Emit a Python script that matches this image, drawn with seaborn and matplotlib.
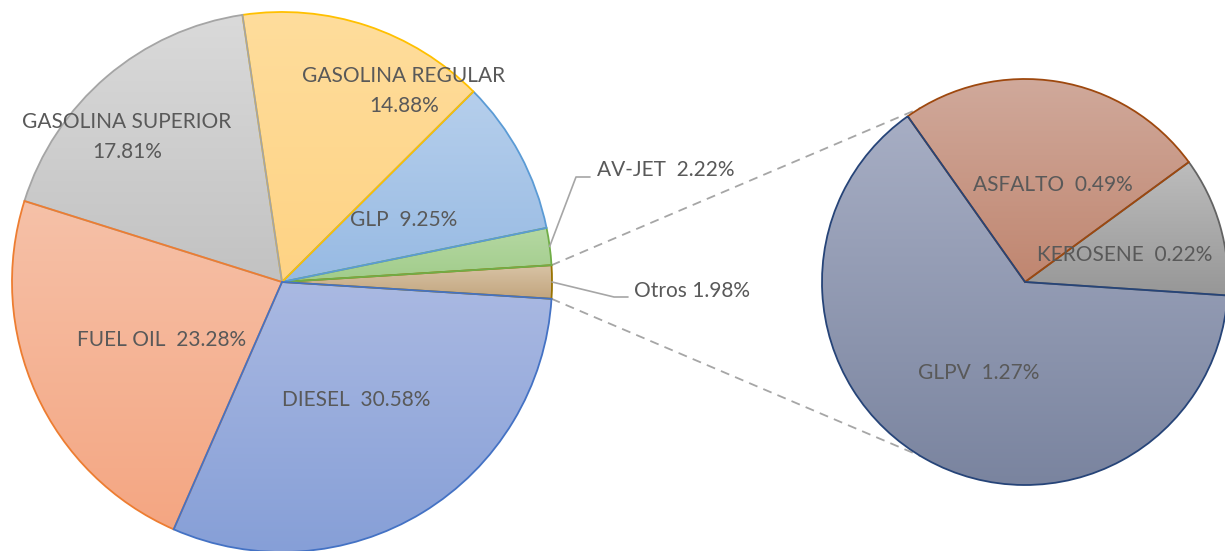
import numpy as np
import matplotlib
matplotlib.use("Agg")
import matplotlib.pyplot as plt
import matplotlib.colors as mcolors
import seaborn as sns

# data (main pie, counter-clockwise from 3 o'clock)
main_labels = ["Otros", "AV-JET", "GLP", "GASOLINA REGULAR", "GASOLINA SUPERIOR", "FUEL OIL", "DIESEL"]
main_values = [1.98, 2.22, 9.25, 14.88, 17.81, 23.28, 30.58]

# breakdown of "Otros"
sub_labels = ["KEROSENE", "ASFALTO", "GLPV"]
sub_values = [0.22, 0.49, 1.27]

# styles: edge colour, gradient top, gradient bottom
main_edge = ["#997300", "#70AD47", "#5B9BD5", "#FFC000", "#A5A5A5", "#ED7D31", "#4472C4"]
main_top = ["#D8C3A5", "#B5D8A3", "#B6CFEC", "#FFDD9C", "#DADADA", "#F6C1A8", "#AAB9E2"]
main_bot = ["#C2A57E", "#A1CC8A", "#97BAE3", "#FED384", "#C2C2C2", "#F4A682", "#869FD7"]
sub_edge = ["#636363", "#9E480E", "#264478"]
sub_top = ["#BDBDBD", "#D0A99B", "#A7AEC4"]
sub_bot = ["#979797", "#C08670", "#7A849F"]

txt_color = "#595959"
line_color = "#A6A6A6"

sns.set_theme(style="white")
plt.rcParams["font.family"] = ["Lato", "DejaVu Sans"]

W, H = 1225, 551
fig = plt.figure(figsize=(12.25, 5.51), dpi=100)
ax = fig.add_axes([0, 0, 1, 1])


def iy(y):
    # image row -> data y
    return H - y


main_c = (282, iy(282))
main_r = 270
sub_c = (1025, iy(282))
sub_r = 203


def fill_gradient(wedge, top, bottom, edge):
    wedge.set_facecolor("none")
    wedge.set_edgecolor(edge)
    bb = wedge.get_path().get_extents()
    t = np.array(mcolors.to_rgb(top))
    b = np.array(mcolors.to_rgb(bottom))
    g = np.linspace(0, 1, 256)[:, None, None]
    img = b + (t - b) * g
    im = ax.imshow(img, extent=[bb.x0, bb.x1, bb.y0, bb.y1], origin="lower",
                   aspect="auto", interpolation="bilinear", zorder=0.5)
    im.set_clip_path(wedge)


main_start = -360 * main_values[0] / sum(main_values) / 2
wedges, _ = ax.pie(main_values, startangle=main_start, center=main_c, radius=main_r,
                   counterclock=True, wedgeprops=dict(linewidth=1.3), frame=True)
for w, t, b, e in zip(wedges, main_top, main_bot, main_edge):
    fill_gradient(w, t, b, e)

sub_wedges, _ = ax.pie(sub_values, startangle=-3.8, center=sub_c, radius=sub_r,
                       counterclock=True, wedgeprops=dict(linewidth=1.3), frame=True)
for w, t, b, e in zip(sub_wedges, sub_top, sub_bot, sub_edge):
    fill_gradient(w, t, b, e)

# dashed connectors from "Otros" slice to the second pie
otros = wedges[0]
for a_main, a_sub in [(otros.theta2, 121), (otros.theta1, -121)]:
    x0 = main_c[0] + main_r * np.cos(np.radians(a_main))
    y0 = main_c[1] + main_r * np.sin(np.radians(a_main))
    x1 = sub_c[0] + sub_r * np.cos(np.radians(a_sub))
    y1 = sub_c[1] + sub_r * np.sin(np.radians(a_sub))
    ax.plot([x0, x1], [y0, y1], color=line_color, lw=1.3, linestyle=(0, (5, 3.5)), zorder=0.3)

# leader lines for the thin slices
fs = 15
for w, elbow, end in [(wedges[1], (576, 177), (590, 177)), (wedges[0], (614, 297), (628, 297))]:
    mid = np.radians((w.theta1 + w.theta2) / 2)
    sx = main_c[0] + main_r * np.cos(mid)
    sy = main_c[1] + main_r * np.sin(mid)
    ax.plot([sx, elbow[0], end[0]], [sy, iy(elbow[1]), iy(end[1])], color=line_color, lw=1.2, zorder=3)


def lbl(name, val, sep="  "):
    return f"{name}{sep}{val:.2f}%"


# data labels (centre positions in image pixels)
main_pos = {
    "Otros": (692, 291),
    "AV-JET": (666, 170),
    "GLP": (404, 220),
    "GASOLINA REGULAR": (404, 91),
    "GASOLINA SUPERIOR": (127, 137),
    "FUEL OIL": (162, 340),
    "DIESEL": (356, 400),
}
for name, val in zip(main_labels, main_values):
    x, y = main_pos[name]
    if name.startswith("GASOLINA"):
        s = f"{name}\n{val:.2f}%"
    elif name == "Otros":
        s = lbl(name, val, " ")
    else:
        s = lbl(name, val)
    ax.text(x, iy(y), s, ha="center", va="center", fontsize=fs, color=txt_color,
            linespacing=1.6, zorder=4)

sub_pos = {"KEROSENE": (1125, 255), "ASFALTO": (1053, 185), "GLPV": (979, 373)}
for name, val in zip(sub_labels, sub_values):
    x, y = sub_pos[name]
    ax.text(x, iy(y), lbl(name, val), ha="center", va="center", fontsize=fs,
            color=txt_color, zorder=4)

ax.set_xlim(0, W)
ax.set_ylim(0, H)
ax.set_aspect("equal")
ax.axis("off")

fig.savefig("out.png", dpi=100, facecolor="white")
